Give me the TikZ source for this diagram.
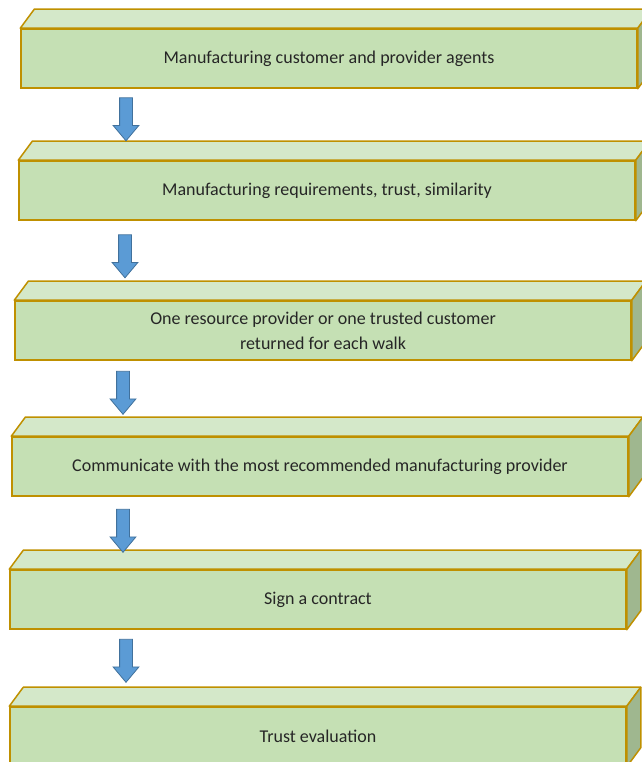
\documentclass[tikz,border=0pt]{standalone}
\usepackage{fontspec}
\setmainfont{Carlito}
\usetikzlibrary{shapes.arrows}
\definecolor{frontgreen}{HTML}{C5E0B4}
\definecolor{topgreen}{HTML}{D4E8C9}
\definecolor{sidegreen}{HTML}{9FB78F}
\definecolor{boxedge}{HTML}{BF9000}
\definecolor{arrowblue}{HTML}{5B9BD5}
\definecolor{arrowedge}{HTML}{41719C}
\begin{document}
\begin{tikzpicture}[x=1pt, y=1pt,
    stepbox/.style={draw=boxedge, line width=1.5pt, fill=frontgreen, minimum width=616pt,
        minimum height=59pt, inner sep=0pt, align=center, text=black!85,
        font=\fontsize{18}{25}\selectfont},
    topface/.style={draw=boxedge, line width=1.5pt, fill=topgreen, line join=round},
    sideface/.style={draw=boxedge, line width=1.5pt, fill=sidegreen, line join=round},
    downarrow/.style={single arrow, draw=arrowedge, line width=0.8pt, fill=arrowblue,
        rotate=-90, minimum height=43pt, minimum width=25pt, inner sep=6pt,
        single arrow head extend=6.5pt, single arrow tip angle=80}]

    \useasboundingbox (0,0) rectangle (641,762);

    \node[stepbox] (b1) at (329,703.5) {Manufacturing customer and provider agents};
    \node[stepbox] (b2) at (327,571.5) {Manufacturing requirements, trust, similarity};
    \node[stepbox] (b3) at (323,431.5) {One resource provider or one trusted customer\\returned for each walk};
    \node[stepbox] (b4) at (320,295.5) {Communicate with the most recommended manufacturing provider};
    \node[stepbox] (b5) at (318,162.5) {Sign a contract};
    \node[stepbox] (b6) at (318,25.5) {Trust evaluation};

    % top and side faces
    \foreach \b in {b1,b2,b3,b4,b5,b6} {
        \draw[topface] (\b.north west) -- ++(14,19) -- ([shift={(14,19)}]\b.north east)
            -- (\b.north east) -- cycle;
        \draw[sideface] (\b.north east) -- ++(14,19) -- ([shift={(14,19)}]\b.south east)
            -- (\b.south east) -- cycle;
    }

    \node[downarrow] (a1) at (126,646.5) {};
    \node[downarrow] (a2) at (125,509.5) {};
    \node[downarrow] (a3) at (123,373) {};
    \node[downarrow] (a4) at (123,235) {};
    \node[downarrow] (a5) at (126,105) {};
\end{tikzpicture}
\end{document}
